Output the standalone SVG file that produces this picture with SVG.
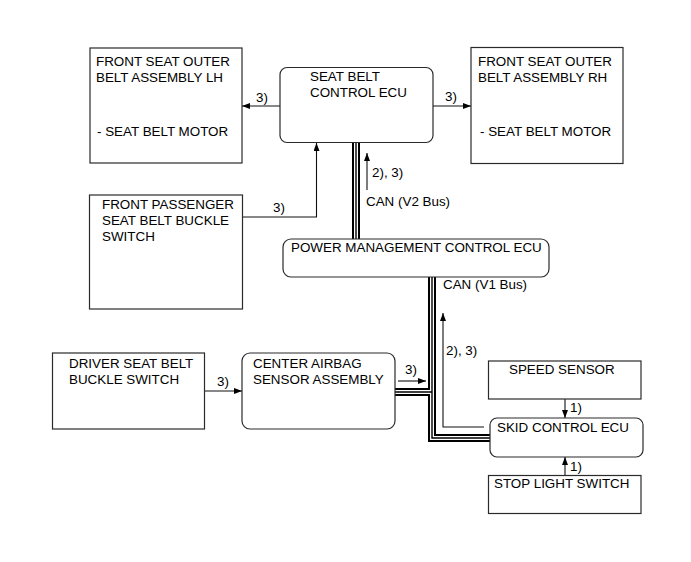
<svg xmlns="http://www.w3.org/2000/svg" width="691" height="562" viewBox="0 0 691 562">
<defs>
<style>
.box{fill:#fff;stroke:#2a2a2a;stroke-width:1.2}
.t{font-family:"Liberation Sans",Arial,sans-serif;font-size:13.4px;fill:#000}
.w{fill:none;stroke:#111;stroke-width:1.1}
.bo{fill:none;stroke:#000;stroke-width:8}
.bw{fill:none;stroke:#fff;stroke-width:4}
.bc{fill:none;stroke:#000;stroke-width:1.4}
</style>
<marker id="ah" viewBox="0 0 8 6" refX="8" refY="3" markerWidth="8" markerHeight="6" markerUnits="userSpaceOnUse" orient="auto">
<path d="M0,0 L8,3 L0,6 Z" fill="#000"/>
</marker>
</defs>
<rect width="691" height="562" fill="#fff"/>
<g id="connectors">
<g id="buses">
<path class="bo" d="M356 143 V239"/>
<path class="bo" d="M432 277 V438 H490"/>
<path class="bo" d="M395 392 H432"/>
<path class="bw" d="M356 143 V239"/>
<path class="bw" d="M432 277 V438 H490"/>
<path class="bw" d="M395 392 H432"/>
<path class="bc" d="M356 143 V239"/>
<path class="bc" d="M432 277 V438 H490"/>
<path class="bc" d="M395 392 H432"/>
</g>
<path class="w" d="M280 106 H242" marker-end="url(#ah)"/>
<path class="w" d="M433 106 H471" marker-end="url(#ah)"/>
<path class="w" d="M243 217 H316.5 V143" marker-end="url(#ah)"/>
<path class="w" d="M367 190 V153" marker-end="url(#ah)"/>
<path class="w" d="M204 391 H242" marker-end="url(#ah)"/>
<path class="w" d="M398 381 H426" marker-end="url(#ah)"/>
<path class="w" d="M484 427 H443 V313" marker-end="url(#ah)"/>
<path class="w" d="M565 399 V418" marker-end="url(#ah)"/>
<path class="w" d="M565 475 V457" marker-end="url(#ah)"/>
<text class="t" x="256" y="102">3)</text>
<text class="t" x="445" y="101">3)</text>
<text class="t" x="273" y="212">3)</text>
<text class="t" x="372" y="177">2), 3)</text>
<text class="t" x="366" y="206">CAN (V2 Bus)</text>
<text class="t" x="443" y="289">CAN (V1 Bus)</text>
<text class="t" x="217" y="386">3)</text>
<text class="t" x="405" y="374">3)</text>
<text class="t" x="446" y="355">2), 3)</text>
<text class="t" x="570" y="412">1)</text>
<text class="t" x="570" y="471">1)</text>
</g>
<g id="lh">
<rect class="box" x="90" y="48" width="152" height="115"/>
<text class="t" x="96" y="66">FRONT SEAT OUTER</text>
<text class="t" x="96" y="81.5">BELT ASSEMBLY LH</text>
<text class="t" x="97" y="136">- SEAT BELT MOTOR</text>
</g>
<g id="sbecu">
<rect class="box" x="280" y="67.5" width="153" height="75" rx="7"/>
<text class="t" x="310" y="81">SEAT BELT</text>
<text class="t" x="310" y="97">CONTROL ECU</text>
</g>
<g id="rh">
<rect class="box" x="471" y="47.5" width="152" height="116"/>
<text class="t" x="478" y="66">FRONT SEAT OUTER</text>
<text class="t" x="478" y="81.5">BELT ASSEMBLY RH</text>
<text class="t" x="480" y="136">- SEAT BELT MOTOR</text>
</g>
<g id="passenger">
<rect class="box" x="89.5" y="195" width="153" height="114"/>
<text class="t" x="102" y="209">FRONT PASSENGER</text>
<text class="t" x="102" y="225">SEAT BELT BUCKLE</text>
<text class="t" x="102" y="241">SWITCH</text>
</g>
<g id="pmecu">
<rect class="box" x="283" y="239" width="266" height="38" rx="8"/>
<text class="t" x="291" y="252">POWER MANAGEMENT CONTROL ECU</text>
</g>
<g id="driver">
<rect class="box" x="52.5" y="353" width="152" height="76"/>
<text class="t" x="69" y="368">DRIVER SEAT BELT</text>
<text class="t" x="69" y="384">BUCKLE SWITCH</text>
</g>
<g id="airbag">
<rect class="box" x="242" y="353" width="153" height="76" rx="8"/>
<text class="t" x="253" y="368">CENTER AIRBAG</text>
<text class="t" x="253" y="384">SENSOR ASSEMBLY</text>
</g>
<g id="speed">
<rect class="box" x="488.5" y="361" width="152.5" height="38"/>
<text class="t" x="509" y="374">SPEED SENSOR</text>
</g>
<g id="skid">
<rect class="box" x="490" y="418" width="153" height="39" rx="7"/>
<text class="t" x="497" y="432">SKID CONTROL ECU</text>
</g>
<g id="stop">
<rect class="box" x="488.5" y="475.5" width="152.5" height="38"/>
<text class="t" x="494" y="488">STOP LIGHT SWITCH</text>
</g>
</svg>
